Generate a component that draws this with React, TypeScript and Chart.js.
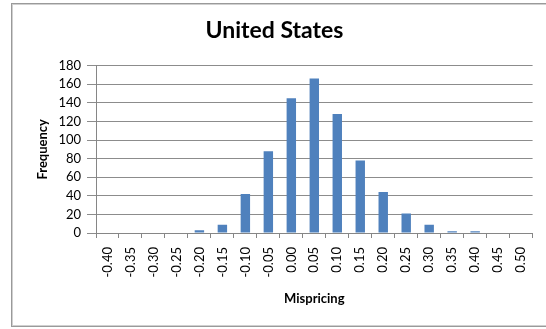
import React, { useEffect, useRef } from "react";
import { Chart, registerables } from "chart.js";

Chart.register(...registerables);

const categories = ["-0.40", "-0.35", "-0.30", "-0.25", "-0.20", "-0.15", "-0.10", "-0.05", "0.00", "0.05", "0.10", "0.15", "0.20", "0.25", "0.30", "0.35", "0.40", "0.45", "0.50"];
const frequency = [0, 0, 0, 0, 3, 9, 42, 88, 145, 166, 128, 78, 44, 21, 9, 2, 2, 0, 0];
const chartTitle = "United States";
const xTitle = "Mispricing";
const yTitle = "Frequency";

const FONT = "Lato, 'DejaVu Sans', sans-serif";

export default function App() {
  const ref = useRef<HTMLCanvasElement | null>(null);

  useEffect(() => {
    if (!ref.current) return;
    const chart = new Chart(ref.current, {
      type: "bar",
      data: {
        labels: categories,
        datasets: [
          {
            data: frequency,
            backgroundColor: "#4F81BD",
            borderWidth: 0,
            barPercentage: 0.41,
            categoryPercentage: 1,
          },
        ],
      },
      options: {
        responsive: false,
        animation: false,
        layout: { padding: { left: 14, right: 11, top: 0, bottom: 0 } },
        plugins: {
          legend: { display: false },
          tooltip: { enabled: false },
          title: {
            display: true,
            text: chartTitle,
            color: "#000",
            font: { family: FONT, size: 23, weight: "bold" },
            padding: { top: 17, bottom: 21 },
          },
        },
        scales: {
          x: {
            afterFit: (s: any) => {
              s.height = 96;
            },
            grid: {
              drawOnChartArea: false,
              tickLength: 5,
              color: "#868686",
            },
            border: { color: "#868686" },
            ticks: {
              minRotation: 90,
              maxRotation: 90,
              autoSkip: false,
              padding: 9,
              color: "#000",
              font: { family: FONT, size: 13 },
            },
            title: {
              display: true,
              text: xTitle,
              color: "#000",
              font: { family: FONT, size: 13, weight: "bold" },
              padding: { top: 0, bottom: 22 },
            },
          },
          y: {
            min: 0,
            max: 180,
            afterFit: (s: any) => {
              s.width = 82;
            },
            grid: { color: "#8c8c8c", tickLength: 9 },
            border: { color: "#868686" },
            ticks: {
              stepSize: 20,
              padding: 6,
              color: "#000",
              font: { family: FONT, size: 13 },
            },
            title: {
              display: true,
              text: yTitle,
              color: "#000",
              font: { family: FONT, size: 13, weight: "bold" },
              padding: { top: 21, bottom: 0 },
            },
          },
        },
      },
    });
    return () => chart.destroy();
  }, []);

  return (
    <div style={{ position: "fixed", left: 0, top: 0, width: 546, height: 329, background: "#fff", overflow: "hidden" }}>
      <div
        style={{
          position: "absolute",
          left: 11,
          top: 3,
          width: 600,
          height: 322,
          border: "1px solid #9a9a9a",
          boxShadow: "inset 0 0 0 1px #d0d0d0",
        }}
      />
      <canvas ref={ref} width={546} height={329} style={{ position: "absolute", left: 0, top: 0 }} />
    </div>
  );
}
